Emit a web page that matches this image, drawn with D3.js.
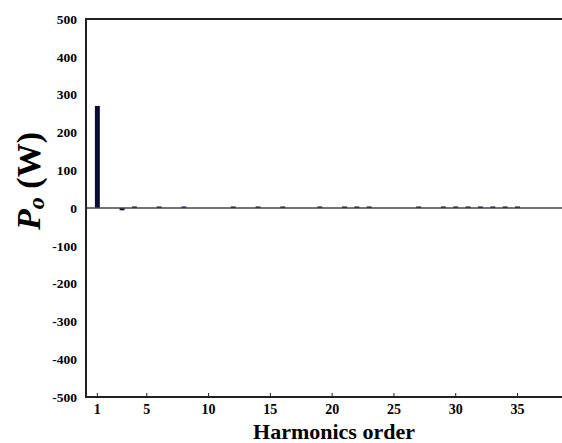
<!DOCTYPE html>
<html>
<head>
    <script src="https://d3js.org/d3.v7.min.js"></script>
    <style>
        body { margin: 0; background: #fff; }
        text { font-family: "Liberation Serif", "Times New Roman", serif; font-weight: bold; }
    </style>
</head>
<body>
    <div id="chart"></div>
    <script>
        // harmonic order and output power (W)
        var orders = [1, 3, 4, 6, 8, 12, 14, 16, 19, 21, 22, 23, 27, 29, 30, 31, 32, 33, 34, 35];
        var power  = [270, -6, 4, 4, 4, 4, 4, 4, 4, 4, 4, 4, 4, 4, 4, 4, 4, 4, 4, 4];
        var xTicks = [1, 5, 10, 15, 20, 25, 30, 35];
        var yTicks = [-500, -400, -300, -200, -100, 0, 100, 200, 300, 400, 500];

        var width = 562, height = 443;
        var plotLeft = 85, plotRight = 562, plotTop = 19, plotBottom = 397;

        var svg = d3.select("#chart").append("svg")
            .attr("width", width)
            .attr("height", height);

        var x = d3.scaleLinear().domain([0, 38.6]).range([plotLeft, plotRight]);
        var y = d3.scaleLinear().domain([-500, 500]).range([plotBottom, plotTop]);

        var barW = x(1.4) - x(1);

        // bars
        svg.selectAll(".bar")
            .data(orders)
            .enter().append("rect")
            .attr("class", "bar")
            .attr("x", function(d) { return x(d) - barW / 2; })
            .attr("y", function(d, i) { return y(Math.max(0, power[i])); })
            .attr("width", barW)
            .attr("height", function(d, i) { return Math.abs(y(power[i]) - y(0)); })
            .attr("fill", "#0b0b38");

        // zero line
        svg.append("line")
            .attr("x1", plotLeft).attr("x2", plotRight)
            .attr("y1", y(0)).attr("y2", y(0))
            .attr("stroke", "#444").attr("stroke-width", 1.5);

        // frame: top, left, bottom
        svg.append("path")
            .attr("d", "M" + plotRight + "," + plotTop + "H" + (plotLeft + 1) + "V" + plotBottom + "H" + plotRight)
            .attr("fill", "none")
            .attr("stroke", "#222")
            .attr("stroke-width", 2);

        // x ticks (inside)
        svg.selectAll(".xtick")
            .data(xTicks)
            .enter().append("line")
            .attr("x1", function(d) { return x(d); })
            .attr("x2", function(d) { return x(d); })
            .attr("y1", plotBottom - 4).attr("y2", plotBottom)
            .attr("stroke", "#222").attr("stroke-width", 1);

        svg.selectAll(".xlab")
            .data(xTicks)
            .enter().append("text")
            .attr("x", function(d) { return x(d); })
            .attr("y", 414)
            .attr("text-anchor", "middle")
            .style("font-size", "14px")
            .text(function(d) { return d; });

        svg.selectAll(".ylab")
            .data(yTicks)
            .enter().append("text")
            .attr("x", 77)
            .attr("y", function(d) { return y(d); })
            .attr("dy", "0.35em")
            .attr("text-anchor", "end")
            .style("font-size", "13.5px")
            .text(function(d) { return d; });

        // axis titles
        svg.append("text")
            .attr("x", 334)
            .attr("y", 439)
            .attr("text-anchor", "middle")
            .style("font-size", "22px")
            .text("Harmonics order");

        var yt = svg.append("text")
            .attr("transform", "translate(40,181) rotate(-90)")
            .attr("text-anchor", "middle")
            .style("font-size", "34px");
        yt.append("tspan").style("font-style", "italic").text("P");
        yt.append("tspan").style("font-style", "italic").style("font-size", "24px").attr("dy", 4).text("o");
        yt.append("tspan").attr("dy", -4).text(" (W)");
    </script>
</body>
</html>
